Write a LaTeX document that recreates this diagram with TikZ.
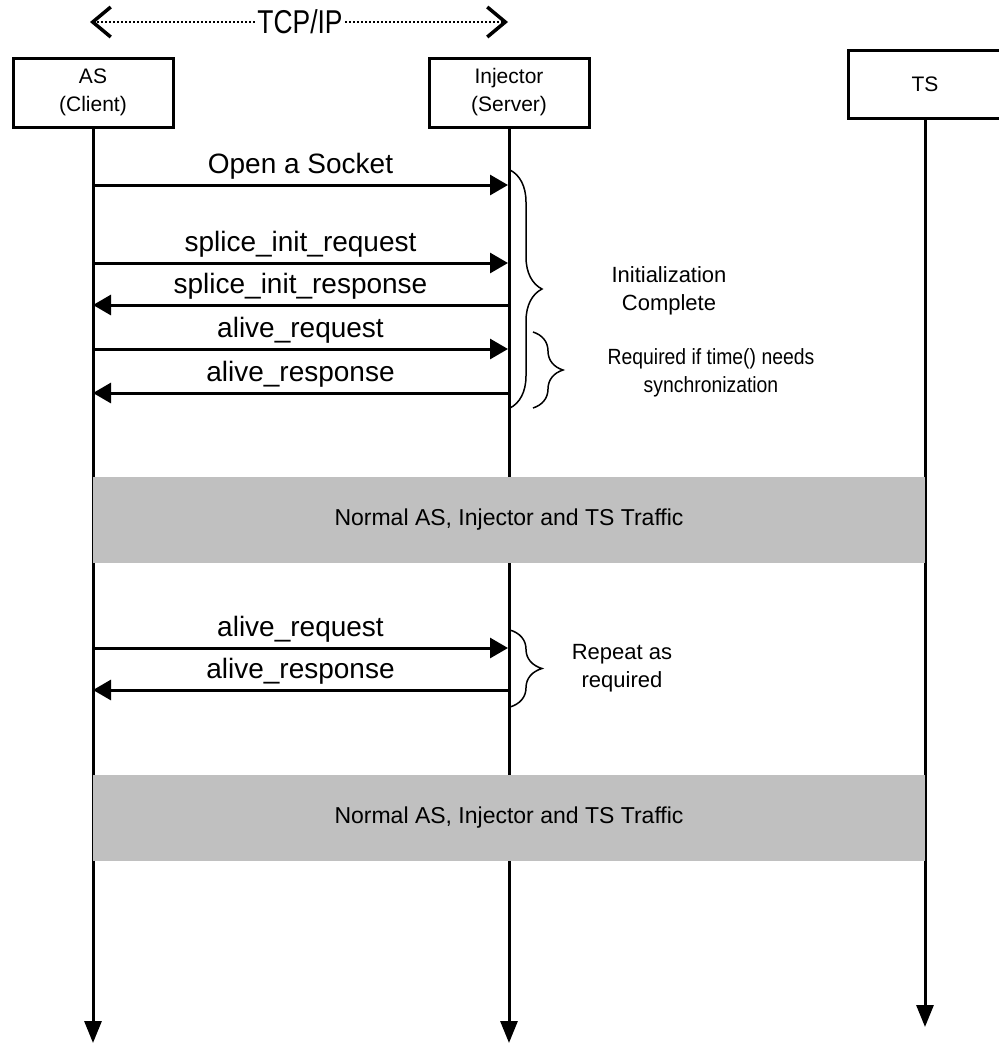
\documentclass[tikz,border=0pt]{standalone}
\usepackage{fontspec}
\setmainfont{Liberation Sans}
\usepackage{xcolor}
\definecolor{bandgray}{RGB}{192,192,192}
\usetikzlibrary{arrows.meta,decorations.pathreplacing}

\begin{document}
\begin{tikzpicture}[x=1pt,y=-1pt,
    actor/.style={draw,line width=3pt,minimum width=160pt,minimum height=69pt,align=center,
                  font=\fontsize{21}{28}\selectfont},
    life/.style={line width=3pt,-{Triangle[length=22pt,width=17pt]}},
    msg/.style={line width=3pt,-{Triangle[length=18pt,width=20pt]}},
    band/.style={fill=bandgray,minimum width=832pt,minimum height=86pt,inner sep=0pt,
                 font=\fontsize{23}{27}\selectfont},
    brc/.style={decorate,decoration={brace,amplitude=#1},line width=1.5pt},
    note/.style={align=center,font=\fontsize{22}{28}\selectfont},
    tcp/.style={line width=2pt,dash pattern=on 2pt off 2pt,
                -{Straight Barb[length=18pt,width=30pt,line width'=3.5pt]}}]

  \useasboundingbox (0,0) rectangle (999,1045);

  % actors
  \node[actor] (as) at (93,92.5) {AS\\(Client)};
  \node[actor] (inj) at (509,92.5) {Injector\\(Server)};
  \node[actor,minimum width=154pt,minimum height=68pt] (ts) at (925,84) {TS};

  % TCP/IP link
  \node[font=\fontsize{33}{36}\selectfont,xscale=0.8,inner sep=3pt] (tcpip) at (300,22) {TCP/IP};
  \coordinate (tcpl) at (90,22);
  \coordinate (tcpr) at (508,22);
  \draw[tcp] (tcpip.west) -- (tcpl);
  \draw[tcp] (tcpip.east) -- (tcpr);

  % lifelines
  \coordinate (asend) at (93,1043);
  \coordinate (injend) at (509,1043);
  \coordinate (tsend) at (925,1027);
  \draw[life] (as) -- (asend);
  \draw[life] (inj) -- (injend);
  \draw[life] (ts) -- (tsend);

  % message points
  \foreach \n/\y in {1/185,2/263,3/305,4/349,5/393,6/648,7/690} {
    \coordinate (a\n) at (93,\y);
    \coordinate (i\n) at (508,\y);
  }

  \path[every node/.style={above=1pt,font=\fontsize{28}{34}\selectfont}]
    (a1) edge[msg] node {Open a Socket} (i1)
    (a2) edge[msg] node {splice\_init\_request} (i2)
    (i3) edge[msg] node {splice\_init\_response} (a3)
    (a4) edge[msg] node {alive\_request} (i4)
    (i5) edge[msg] node {alive\_response} (a5)
    (a6) edge[msg] node {alive\_request} (i6)
    (i7) edge[msg] node {alive\_response} (a7);

  % braces
  \draw[brc=32pt] (510,170) -- (510,408);
  \draw[brc=30pt] (533,332) -- (533,408);
  \draw[brc=32pt] (510,630) -- (510,707);

  \node[note] (init) at (669,291) {Initialization\\Complete};
  \node[note,xscale=0.88] (sync) at (711,373) {Required if time() needs\\synchronization};
  \node[note] (rep) at (622,668) {Repeat as\\required};

  % traffic bands
  \node[band] (traffic1) at (509,520) {Normal AS, Injector and TS Traffic};
  \node[band] (traffic2) at (509,817.5) {Normal AS, Injector and TS Traffic};

\end{tikzpicture}
\end{document}
